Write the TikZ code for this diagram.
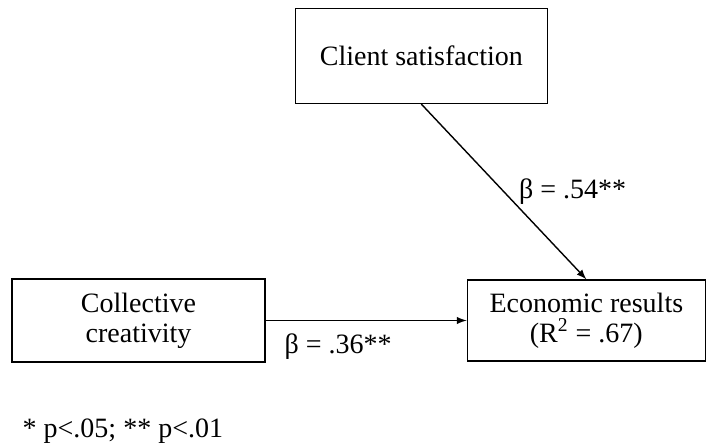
\documentclass[tikz,border=0pt]{standalone}
\usepackage{fontspec}
\setmainfont{Liberation Serif}

\begin{document}
\begin{tikzpicture}[node distance=2cm, x=0.5pt, y=-0.5pt, >=latex, line width=0.7pt,
    font=\fontsize{14}{15}\selectfont]
    \useasboundingbox (0,0) rectangle (708,448);
    \node (creativity) [draw, rectangle, align=center, minimum width=126.5pt, minimum height=41.5pt] at (138.5,320.5) {Collective\\creativity};
    \node (results) [draw, rectangle, align=center, minimum width=119pt, minimum height=40.5pt, right of=creativity, xshift=5.87cm] {Economic results\\(R\textsuperscript{2} = .67)};
    \node (satisfaction) [draw, rectangle, minimum width=126pt, minimum height=47.5pt, above of=results, xshift=-2.9cm, yshift=2.65cm] {Client satisfaction};

    \draw[->] (creativity) -- node[below, pos=.36, yshift=-3pt] {β = .36**} (results);
    \draw[->] (satisfaction.south) -- node[right, pos=.5, xshift=4pt] {β = .54**} (results.north);

    \node (note) [anchor=base west, inner sep=0pt] at (22,438) {* p<.05; ** p<.01};
\end{tikzpicture}
\end{document}
